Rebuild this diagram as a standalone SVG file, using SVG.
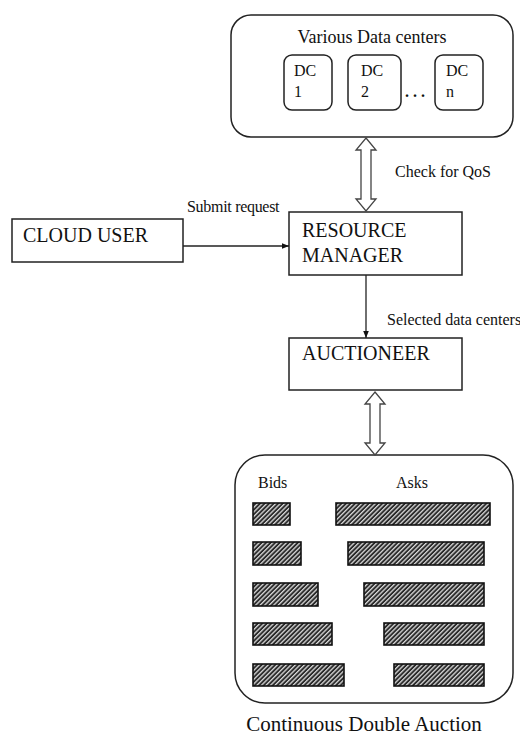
<svg xmlns="http://www.w3.org/2000/svg" width="520" height="735" viewBox="0 0 520 735">
  <style>
    text { font-family: "Liberation Serif", "Times New Roman", serif; fill: #111; }
    .box { fill: #fff; stroke: #222; stroke-width: 1.5; }
    .big { font-size: 20px; }
    .mid { font-size: 18px; }
    .sm { font-size: 16px; }
    .line { stroke: #222; stroke-width: 1.3; fill: none; }
    .hollow { fill: #fff; stroke: #444; stroke-width: 1.3; stroke-linejoin: miter; }
    .bar { fill: url(#hatch); stroke: #111; stroke-width: 1.6; }
  </style>
  <defs>
    <marker id="head" viewBox="0 0 10 10" refX="10" refY="5" markerWidth="7" markerHeight="7" orient="auto" markerUnits="userSpaceOnUse">
      <path d="M0,1 L10,5 L0,9 Z" fill="#111"/>
    </marker>
    <pattern id="hatch" width="3.2" height="3.2" patternUnits="userSpaceOnUse" patternTransform="rotate(45)">
      <rect width="3.2" height="3.2" fill="#2a2a2a"/>
      <rect x="0" y="0" width="1.3" height="3.2" fill="#d8d8d8"/>
    </pattern>
  </defs>

  <!-- data centre pool -->
  <g id="datacenters">
    <rect class="box" x="231" y="15" width="282" height="122" rx="20"/>
    <text class="mid" x="372" y="43" text-anchor="middle">Various Data centers</text>
    <g id="dc1">
      <rect class="box" x="284" y="55" width="48" height="55" rx="8"/>
      <text class="sm" x="294" y="76">DC</text>
      <text class="sm" x="294" y="97">1</text>
    </g>
    <g id="dc2">
      <rect class="box" x="348" y="55" width="53" height="55" rx="8"/>
      <text class="sm" x="361" y="76">DC</text>
      <text class="sm" x="361" y="97">2</text>
    </g>
    <text class="sm" x="405" y="97" font-weight="bold">. . .</text>
    <g id="dcn">
      <rect class="box" x="435" y="55" width="48" height="55" rx="8"/>
      <text class="sm" x="446" y="76">DC</text>
      <text class="sm" x="446" y="97">n</text>
    </g>
  </g>

  <g id="cloud-user">
    <rect class="box" x="12" y="219" width="171" height="43"/>
    <text class="big" x="23" y="242">CLOUD USER</text>
  </g>

  <g id="resource-manager">
    <rect class="box" x="289" y="212" width="173" height="63"/>
    <text class="big" x="302" y="237">RESOURCE</text>
    <text class="big" x="302" y="262">MANAGER</text>
  </g>

  <g id="auctioneer">
    <rect class="box" x="289" y="338" width="173" height="52"/>
    <text class="big" x="302" y="360">AUCTIONEER</text>
  </g>

  <!-- continuous double auction book -->
  <g id="auction">
    <rect class="box" x="235" y="455" width="278" height="248" rx="30"/>
    <text class="sm" x="258" y="488">Bids</text>
    <text class="sm" x="396" y="488">Asks</text>
    <rect class="bar" x="253" y="503" width="37" height="22"/>
    <rect class="bar" x="336" y="503" width="154" height="22"/>
    <rect class="bar" x="253" y="542" width="48" height="23"/>
    <rect class="bar" x="348" y="542" width="136" height="23"/>
    <rect class="bar" x="253" y="583" width="65" height="23"/>
    <rect class="bar" x="364" y="583" width="120" height="23"/>
    <rect class="bar" x="253" y="623" width="79" height="22"/>
    <rect class="bar" x="384" y="623" width="100" height="22"/>
    <rect class="bar" x="253" y="664" width="91" height="22"/>
    <rect class="bar" x="394" y="664" width="90" height="22"/>
    <text x="364" y="731" text-anchor="middle" font-size="21">Continuous Double Auction</text>
  </g>

  <g id="connectors">
    <!-- two-way link: data centres / resource manager -->
    <polygon class="hollow" points="366,138 376,150 371,150 371,199 376,199 366,211 356,199 361,199 361,150 356,150"/>
    <text class="sm" x="395" y="177">Check for QoS</text>

    <!-- cloud user submits a request -->
    <line class="line" x1="183" y1="246" x2="289" y2="246" marker-end="url(#head)"/>
    <text class="sm" x="187" y="212" letter-spacing="-0.3">Submit request</text>

    <!-- resource manager hands selected data centres to the auctioneer -->
    <line class="line" x1="366" y1="275" x2="366" y2="338" marker-end="url(#head)"/>
    <text class="sm" x="387" y="325">Selected data centers</text>

    <!-- two-way link: auctioneer / auction book -->
    <polygon class="hollow" points="375,392 385,404 380,404 380,443 385,443 375,455 365,443 370,443 370,404 365,404"/>
  </g>
</svg>
